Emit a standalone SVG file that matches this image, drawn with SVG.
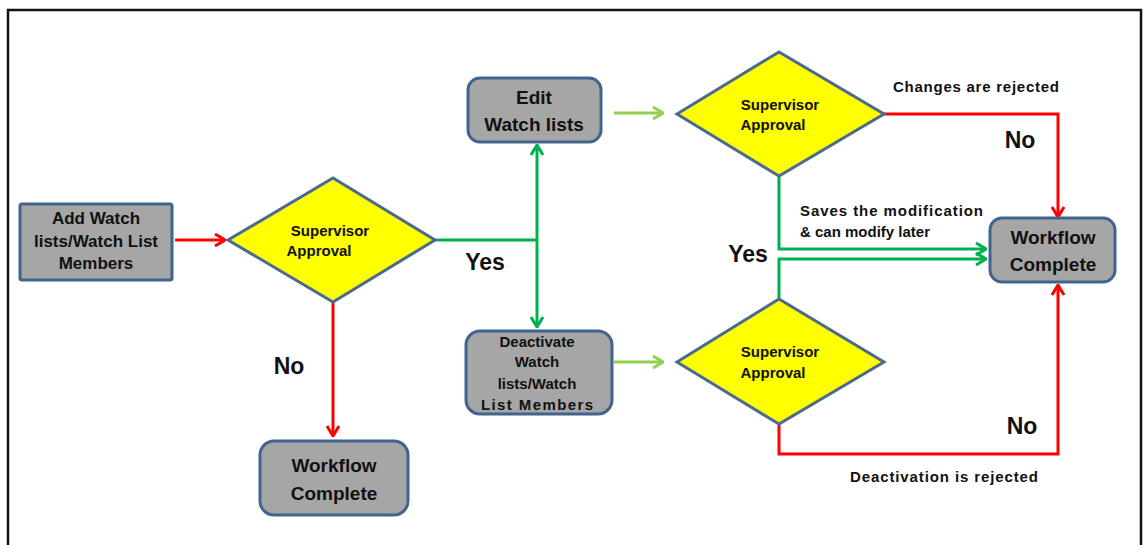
<svg xmlns="http://www.w3.org/2000/svg" width="1145" height="545" viewBox="0 0 1145 545">
<style>
.box{fill:#a6a6a6;stroke:#41648f;stroke-width:3}
.dia{fill:#ffff00;stroke:#4a6a8f;stroke-width:3;stroke-linejoin:miter}
.t{font-family:"Liberation Sans",Arial,sans-serif;font-weight:bold;fill:#111;text-anchor:middle}
.bt{font-size:17px}
.bb{font-size:19px}
.dt{font-size:15px}
.lbl{font-size:23px}
.sm{font-size:15px;text-anchor:start}
.red{stroke:#ff0000;stroke-width:3;fill:none}
.grn{stroke:#00b050;stroke-width:3;fill:none}
.lgr{stroke:#92d050;stroke-width:3;fill:none}
</style>
<defs>
<marker id="ar" viewBox="0 0 12 14" refX="11" refY="7" markerWidth="12" markerHeight="14" markerUnits="userSpaceOnUse" orient="auto"><path d="M1,1 L11,7 L1,13" fill="none" stroke="#ff0000" stroke-width="3"/></marker>
<marker id="ag" viewBox="0 0 12 14" refX="11" refY="7" markerWidth="12" markerHeight="14" markerUnits="userSpaceOnUse" orient="auto"><path d="M1,1 L11,7 L1,13" fill="none" stroke="#00b050" stroke-width="3"/></marker>
<marker id="al" viewBox="0 0 12 14" refX="11" refY="7" markerWidth="12" markerHeight="14" markerUnits="userSpaceOnUse" orient="auto"><path d="M1,1 L11,7 L1,13" fill="none" stroke="#92d050" stroke-width="3"/></marker>
</defs>
<rect x="0" y="0" width="1145" height="545" fill="#fff"/>
<path d="M8,545 L8,10 L1141,10 L1141,545" fill="none" stroke="#111" stroke-width="2.5"/>
<g id="connectors">
<path class="red" d="M175,240 L225,240" marker-end="url(#ar)"/>
<path class="red" d="M333,302 L333,436" marker-end="url(#ar)"/>
<path class="grn" d="M435,240 L537,240"/>
<path class="grn" d="M537,240 L537,145" marker-end="url(#ag)"/>
<path class="grn" d="M537,240 L537,327" marker-end="url(#ag)"/>
<path class="lgr" d="M614,113 L663,113" marker-end="url(#al)"/>
<path class="lgr" d="M614,362 L663,362" marker-end="url(#al)"/>
<path class="red" d="M884,114 L1058,114 L1058,217" marker-end="url(#ar)"/>
<path class="grn" d="M779,176 L779,249 L986,249" marker-end="url(#ag)"/>
<path class="grn" d="M779,298 L779,259 L986,259" marker-end="url(#ag)"/>
<path class="red" d="M779,424 L779,454 L1058,454 L1058,285" marker-end="url(#ar)"/>
</g>
<g id="add">
<rect class="box" x="20" y="204" width="152" height="76" rx="2"/>
<text class="t bt" x="96" y="224">Add Watch</text>
<text class="t bt" x="96" y="247">lists/Watch List</text>
<text class="t bt" x="96" y="269">Members</text>
</g>
<g id="d1">
<polygon class="dia" points="228,240 333,178 435,240 333,302"/>
<text class="t dt" x="330" y="236">Supervisor</text>
<text class="t dt" x="319" y="256">Approval</text>
</g>
<g id="wc1">
<rect class="box" x="260" y="441" width="148" height="74" rx="14"/>
<text class="t bb" x="334" y="472">Workflow</text>
<text class="t bb" x="334" y="500">Complete</text>
</g>
<g id="edit">
<rect class="box" x="468" y="78" width="133" height="64" rx="12"/>
<text class="t bb" x="534" y="104">Edit</text>
<text class="t bb" x="534" y="131">Watch lists</text>
</g>
<g id="deact">
<rect class="box" x="466" y="331" width="146" height="83" rx="14"/>
<text class="t dt" x="537" y="347">Deactivate</text>
<text class="t dt" x="537" y="367">Watch</text>
<text class="t dt" x="537" y="389">lists/Watch</text>
<text class="t dt" x="537" y="410" textLength="112">List Members</text>
</g>
<g id="d2">
<polygon class="dia" points="677,114 779,52 884,114 779,176"/>
<text class="t dt" x="780" y="110">Supervisor</text>
<text class="t dt" x="773" y="130">Approval</text>
</g>
<g id="d3">
<polygon class="dia" points="677,362 779,299 884,362 779,424"/>
<text class="t dt" x="780" y="357">Supervisor</text>
<text class="t dt" x="773" y="378">Approval</text>
</g>
<g id="wc2">
<rect class="box" x="990" y="218" width="125" height="64" rx="12"/>
<text class="t bb" x="1053" y="244">Workflow</text>
<text class="t bb" x="1053" y="271">Complete</text>
</g>
<g id="labels">
<text class="t lbl" x="289" y="374">No</text>
<text class="t lbl" x="485" y="270">Yes</text>
<text class="t lbl" x="748" y="262">Yes</text>
<text class="t lbl" x="1020" y="148">No</text>
<text class="t lbl" x="1022" y="434">No</text>
<text class="t dt" x="976" y="92" textLength="166">Changes are rejected</text>
<text class="t sm" x="800" y="216" textLength="183">Saves the modification</text>
<text class="t sm" x="800" y="237">&amp; can modify later</text>
<text class="t dt" x="944" y="482" textLength="188">Deactivation is rejected</text>
</g>
</svg>
